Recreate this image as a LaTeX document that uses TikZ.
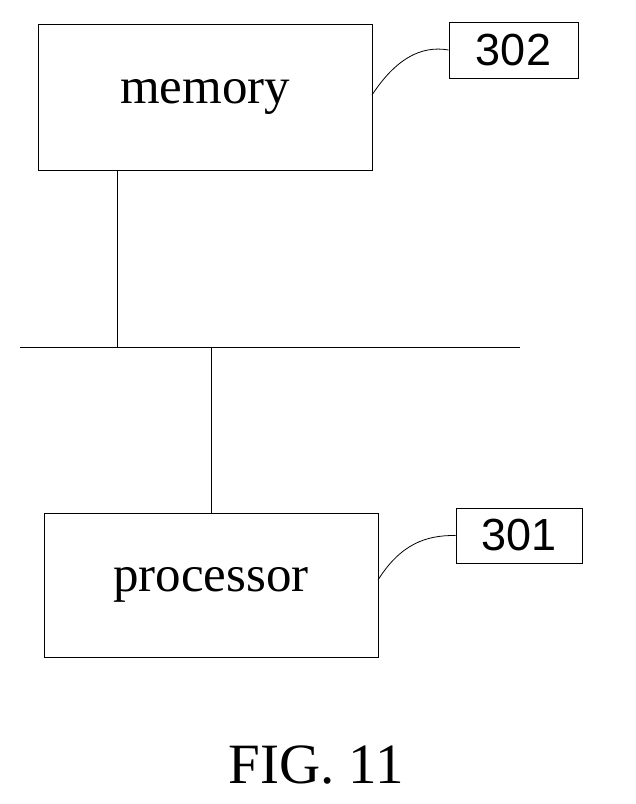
\documentclass[tikz,border=0pt]{standalone}
\usepackage{fontspec}
\setmainfont{Liberation Serif}
\newfontfamily\lsans{Liberation Sans}
\begin{document}
\begin{tikzpicture}[x=1pt,y=-1pt,
  box/.style={draw,line width=0.8pt,inner sep=0pt},
  lbl/.style={draw,line width=0.8pt,inner sep=0pt,font=\lsans\fontsize{45}{48}\selectfont},
  ln/.style={line width=0.8pt}]
\useasboundingbox (0,0) rectangle (636,804);
\node[box,minimum width=334pt,minimum height=146pt,font=\fontsize{51}{56}\selectfont] (mem) at (205,97) {memory};
\node[lbl,minimum width=129pt,minimum height=56pt] (l302) at (513.5,50) {302};
\node[box,minimum width=334pt,minimum height=144pt,font=\fontsize{51}{56}\selectfont] (proc) at (211,585) {processor};
\node[lbl,minimum width=126pt,minimum height=55pt] (l301) at (519,535.5) {301};
\coordinate (b1) at (20,347);
\coordinate (b2) at (520,347);
\coordinate (m) at (117,347);
\coordinate (p) at (211,347);
\draw[ln] (b1) -- (b2);
\draw[ln] (mem.south -| m) -- (m);
\draw[ln] (p) -- (proc.north -| p);
\draw[ln] (372,95) .. controls (395,60) and (420,45) .. (l302.west);
\draw[ln] (378,580) .. controls (400,545) and (425,535) .. (l301.west);
\node[font=\fontsize{57}{62}\selectfont] (fig) at (316,765) {FIG. 11};
\end{tikzpicture}
\end{document}
